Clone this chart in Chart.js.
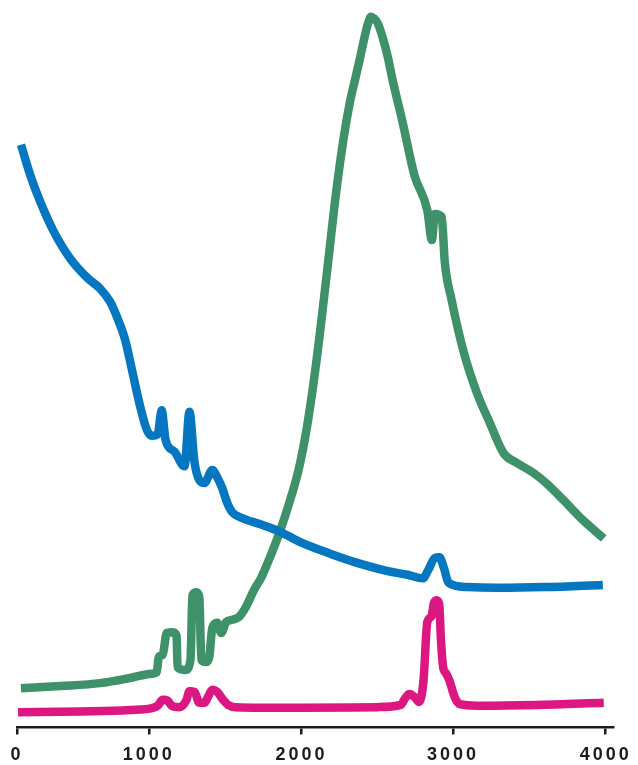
<!DOCTYPE html>
<html>
<head>
<meta charset="utf-8">
<script src="https://cdn.jsdelivr.net/npm/chart.js@4/dist/chart.umd.min.js"></script>
<style>
  html, body { margin: 0; padding: 0; background: #ffffff; }
  #wrap { width: 638px; height: 765px; }
</style>
</head>
<body>
<div id="wrap"><canvas id="spectra" width="638" height="765"></canvas></div>
<script>
// Wavenumber ticks along the bottom axis
const tickValues = [0, 1000, 2000, 3000, 4000];

// Blue trace
const blueX = [30, 105, 180, 278, 406, 534, 632, 707, 759, 820, 880, 932, 985, 1019, 1058, 1084, 1110, 1169, 1234, 1266, 1299, 1331, 1364, 1416, 1448, 1481, 1513, 1546, 1611, 1721, 1851, 1981, 2176, 2373, 2569, 2699, 2800, 2835, 2880, 2910, 2940, 2970, 3091, 3286, 3610, 3981];
const blueY = [80.1, 75.7, 72.1, 68.2, 64.4, 61.8, 60.3, 58.5, 56.4, 53.3, 48.5, 44.3, 40.9, 40.1, 40.3, 43.6, 39.5, 37.9, 35.9, 43.4, 36.5, 34.0, 33.6, 35.4, 34.4, 32.9, 30.9, 29.6, 28.8, 28.0, 27.0, 25.6, 24.0, 22.6, 21.5, 21.0, 20.5, 21.6, 23.3, 23.4, 21.9, 19.9, 19.3, 19.2, 19.3, 19.6];

// Green trace
const greenX = [30, 331, 632, 857, 1019, 1052, 1065, 1091, 1117, 1156, 1182, 1188, 1240, 1273, 1286, 1312, 1331, 1344, 1377, 1396, 1416, 1448, 1474, 1507, 1546, 1591, 1637, 1689, 1734, 1786, 1851, 1916, 1981, 2033, 2078, 2124, 2176, 2229, 2281, 2320, 2353, 2386, 2412, 2431, 2444, 2457, 2477, 2503, 2536, 2569, 2601, 2667, 2745, 2830, 2860, 2880, 2925, 2945, 2990, 3071, 3156, 3240, 3331, 3416, 3526, 3610, 3721, 3851, 3987];
const greenY = [5.4, 5.7, 6.1, 6.8, 7.4, 7.6, 9.7, 10.0, 13.0, 13.1, 12.6, 8.3, 7.9, 9.3, 18.2, 18.6, 17.9, 9.3, 9.0, 9.7, 13.7, 14.4, 13.0, 14.5, 14.8, 15.2, 16.6, 18.9, 20.5, 23.0, 26.5, 30.6, 35.4, 40.9, 47.1, 54.6, 64.0, 73.6, 81.4, 86.0, 89.0, 92.0, 94.5, 96.2, 97.1, 97.7, 97.5, 96.8, 94.8, 92.2, 89.0, 83.2, 75.9, 71.1, 67.0, 70.6, 70.2, 64.0, 58.8, 51.5, 46.0, 41.9, 37.7, 36.4, 35.0, 33.6, 31.3, 28.5, 26.0];

// Pink trace
const pinkX = [8, 481, 857, 1026, 1058, 1091, 1123, 1149, 1201, 1247, 1266, 1299, 1331, 1364, 1390, 1416, 1448, 1487, 1520, 1565, 1981, 2503, 2654, 2686, 2712, 2745, 2777, 2805, 2830, 2858, 2872, 2890, 2908, 2920, 2935, 2952, 2975, 3010, 3045, 3156, 3546, 3987];
const pinkY = [2.1, 2.2, 2.4, 2.7, 3.0, 3.8, 3.7, 3.0, 2.8, 3.8, 5.0, 4.9, 3.4, 3.4, 4.3, 5.2, 4.9, 3.8, 3.1, 2.8, 2.7, 2.8, 3.1, 4.1, 4.6, 4.2, 3.5, 6.5, 14.5, 15.3, 17.0, 17.5, 17.0, 12.0, 8.2, 7.5, 6.5, 4.2, 3.2, 3.0, 3.1, 3.4];

// Relative drawn width of each 1000-unit span of the axis
const spanWidths = [133, 154, 153, 154, 154];

function cumulativeWidth(v) {
  let s = 0;
  for (let i = 0; i < spanWidths.length; i++) {
    const a = i * 1000;
    if (v <= a) break;
    s += spanWidths[i] * Math.min(1, (v - a) / 1000);
  }
  return s;
}

function valueForWidth(w) {
  let s = 0;
  for (let i = 0; i < spanWidths.length; i++) {
    if (w <= s + spanWidths[i] || i === spanWidths.length - 1) {
      return i * 1000 + (w - s) / spanWidths[i] * 1000;
    }
    s += spanWidths[i];
  }
  return 0;
}

// Linear axis whose 1000-unit spans may have unequal drawn widths
class SegmentedScale extends Chart.LinearScale {
  getPixelForValue(value) {
    if (value === null || value === undefined) return NaN;
    const lo = cumulativeWidth(this.min);
    const hi = cumulativeWidth(this.max);
    return this.getPixelForDecimal((cumulativeWidth(value) - lo) / (hi - lo));
  }
  getValueForPixel(pixel) {
    const lo = cumulativeWidth(this.min);
    const hi = cumulativeWidth(this.max);
    return valueForWidth(lo + this.getDecimalForPixel(pixel) * (hi - lo));
  }
}
SegmentedScale.id = 'segmented';
SegmentedScale.defaults = Chart.LinearScale.defaults;
Chart.register(SegmentedScale);

const toPoints = (xs, ys) => xs.map((x, i) => ({ x: x, y: ys[i] }));

// Wider spacing between the digits of the tick labels
const labelSpacing = {
  id: 'labelSpacing',
  beforeDraw(chart) { chart.ctx.letterSpacing = '3px'; }
};

const lineStyle = {
  borderWidth: 8.5,
  pointRadius: 0,
  fill: false,
  cubicInterpolationMode: 'monotone',
  borderJoinStyle: 'miter',
  borderCapStyle: 'butt'
};

new Chart(document.getElementById('spectra'), {
  type: 'line',
  data: {
    datasets: [
      Object.assign({ label: 'Blue', data: toPoints(blueX, blueY), borderColor: '#0577c0' }, lineStyle),
      Object.assign({ label: 'Pink', data: toPoints(pinkX, pinkY), borderColor: '#dc1781' }, lineStyle),
      Object.assign({ label: 'Green', data: toPoints(greenX, greenY), borderColor: '#3e9168' }, lineStyle)
    ]
  },
  options: {
    responsive: false,
    animation: false,
    layout: { padding: { left: 16, right: 20, top: 0, bottom: 0 } },
    plugins: { legend: { display: false }, tooltip: { enabled: false } },
    scales: {
      x: {
        type: 'segmented',
        min: 0,
        max: 4052,
        afterBuildTicks(scale) { scale.ticks = tickValues.map(v => ({ value: v })); },
        afterFit(scale) { scale.height = 37.5; },
        border: { display: true, color: '#1c1c1c', width: 2.5 },
        grid: { display: true, drawOnChartArea: false, drawTicks: true, tickLength: 7, color: '#1c1c1c', lineWidth: 2.5 },
        ticks: {
          autoSkip: false,
          maxRotation: 0,
          padding: 12,
          color: '#1c1c1c',
          font: { family: "'Liberation Sans', Arial, sans-serif", size: 18, weight: 'bold', lineHeight: 1 },
          callback: v => String(v)
        }
      },
      y: { display: false, min: 0, max: 100 }
    }
  },
  plugins: [labelSpacing]
});
</script>
</body>
</html>
